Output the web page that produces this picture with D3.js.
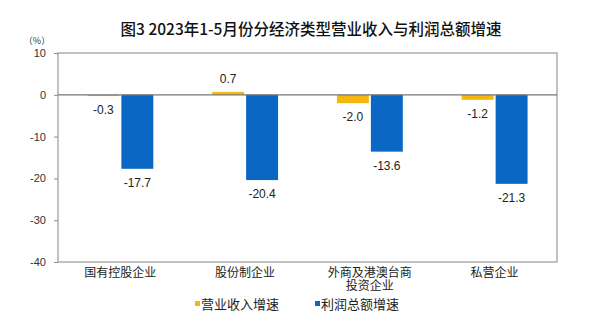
<!DOCTYPE html>
<html>
<head>
<meta charset="utf-8">
<script src="https://cdn.jsdelivr.net/npm/d3@7"></script>
<style>
  body { margin: 0; background: #fff; }
  svg { display: block; }
  text { font-family: "Liberation Sans", "Noto Sans CJK SC", sans-serif; }
</style>
</head>
<body>
<svg id="chart" width="600" height="325"></svg>
<script>
const categories = ["国有控股企业", "股份制企业", "外商及港澳台商投资企业", "私营企业"];
const categoryLines = [["国有控股企业"], ["股份制企业"], ["外商及港澳台商", "投资企业"], ["私营企业"]];
const revenueGrowth = [-0.3, 0.7, -2.0, -1.2];
const profitGrowth = [-17.7, -20.4, -13.6, -21.3];
const seriesNames = ["营业收入增速", "利润总额增速"];
const yTicks = [10, 0, -10, -20, -30, -40];
const titleText = "图3  2023年1-5月份分经济类型营业收入与利润总额增速";
const unitText = "（%）";

const colors = ["#F5B60F", "#0A68C4"];
const svg = d3.select("#chart");
const W = 600, H = 325;
const m = { left: 58, right: 43, top: 53, bottom: 63 };

const x = d3.scaleBand().domain(categories).range([m.left, W - m.right]).padding(0);
const y = d3.scaleLinear().domain([-40, 10]).range([H - m.bottom, m.top]);
const hyph = s => s.replace("\u2212", "-");

svg.append("rect").attr("width", W).attr("height", H).attr("fill", "#fff");

// title
svg.append("text")
  .attr("x", 311).attr("y", 35)
  .attr("text-anchor", "middle")
  .attr("font-size", 15.5)
  .attr("font-weight", 500)
  .attr("fill", "#111")
  .style("font-family", "'Noto Sans CJK SC', sans-serif")
  .text(titleText);

// unit
svg.append("text")
  .attr("x", 37).attr("y", 44)
  .attr("text-anchor", "middle")
  .attr("font-size", 9)
  .attr("fill", "#333")
  .style("font-family", "'Noto Sans CJK SC', sans-serif")
  .text(unitText);

// y axis
const yAxis = d3.axisLeft(y).tickValues(yTicks).tickSize(4).tickFormat(d => hyph(d3.format("d")(d)));
const gy = svg.append("g").attr("transform", `translate(${m.left},0)`).call(yAxis);
gy.select(".domain").remove();
gy.selectAll(".tick line").attr("stroke", "#888");
gy.selectAll(".tick text").attr("font-size", 11).attr("fill", "#333").attr("x", -12)
  .style("font-family", "'Liberation Sans', sans-serif");

// plot border
svg.append("rect")
  .attr("x", m.left).attr("y", m.top)
  .attr("width", W - m.left - m.right).attr("height", H - m.top - m.bottom)
  .attr("fill", "none").attr("stroke", "#999").attr("stroke-width", 1.2);

const bw = x.bandwidth() * 0.256;
const gap = 2;
const series = [revenueGrowth, profitGrowth];

series.forEach((vals, si) => {
  const xPos = c => x(c) + x.bandwidth() / 2 + (si === 0 ? -gap / 2 - bw : gap / 2);
  svg.append("g").selectAll("rect").data(categories).join("rect")
    .attr("x", c => xPos(c))
    .attr("y", (c, i) => y(Math.max(0, vals[i])))
    .attr("width", bw)
    .attr("height", (c, i) => Math.abs(y(vals[i]) - y(0)))
    .attr("fill", colors[si]);
  svg.append("g").selectAll("text").data(categories).join("text")
    .attr("x", c => xPos(c) + bw / 2)
    .attr("y", (c, i) => vals[i] >= 0 ? y(vals[i]) - 9 : y(vals[i]) + 18)
    .attr("text-anchor", "middle")
    .attr("font-size", 12)
    .attr("fill", "#222")
    .text((c, i) => hyph(d3.format(".1f")(vals[i])));
});

// zero line
svg.append("line")
  .attr("x1", m.left).attr("x2", W - m.right)
  .attr("y1", y(0)).attr("y2", y(0))
  .attr("stroke", "#777").attr("stroke-width", 1.2);

// category labels (one text element per line)
categories.forEach((c, i) => {
  categoryLines[i].forEach((ln, k) => {
    svg.append("text")
      .attr("x", x(c) + x.bandwidth() / 2)
      .attr("y", 277 + k * 12.5)
      .attr("text-anchor", "middle")
      .attr("font-size", 12)
      .attr("fill", "#222")
      .style("font-family", "'Noto Sans CJK SC', sans-serif")
      .text(ln);
  });
});

// legend
const legendX = [195, 315];
seriesNames.forEach((n, i) => {
  svg.append("rect")
    .attr("x", legendX[i]).attr("y", 301)
    .attr("width", 5).attr("height", 5)
    .attr("fill", colors[i]);
  svg.append("text")
    .attr("x", legendX[i] + 6).attr("y", 308.5)
    .attr("font-size", 13)
    .attr("fill", "#222")
    .style("font-family", "'Noto Sans CJK SC', sans-serif")
    .text(n);
});
</script>
</body>
</html>
